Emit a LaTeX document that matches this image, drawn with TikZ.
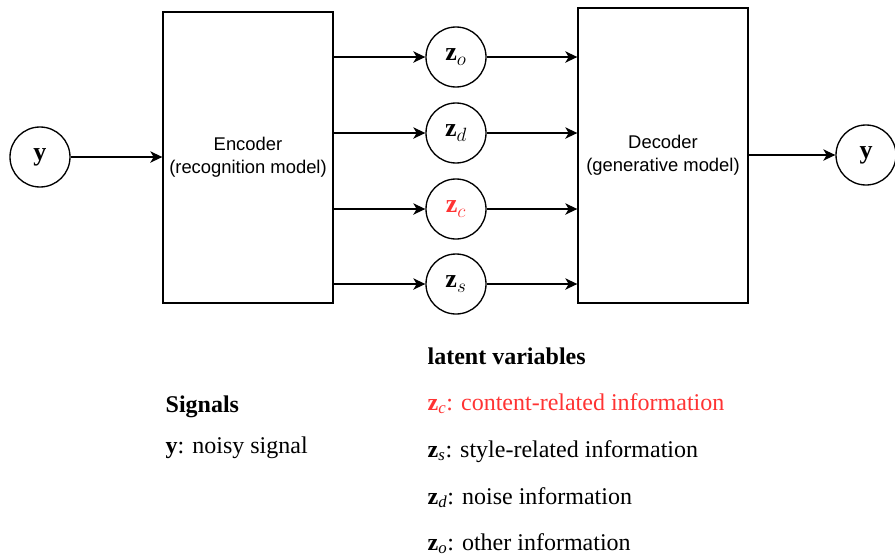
\documentclass[tikz,border=0pt]{standalone}
\usepackage{fontspec}
\setmainfont{Liberation Serif}
\newfontfamily\boxfont{Liberation Sans}
\usetikzlibrary{arrows.meta}
\definecolor{hot}{HTML}{FF3333}
\begin{document}
\begin{tikzpicture}[x=0.75pt,y=-0.75pt,
  every path/.style={line width=1pt},
  var/.style={draw,circle,minimum size=45pt,inner sep=0pt,font=\fontsize{19.5}{22}\selectfont},
  block/.style={draw,minimum width=127.5pt,inner sep=0pt,align=center,font=\boxfont\fontsize{13.8}{17}\selectfont},
  flow/.style={-{Stealth[length=9pt,width=8.5pt,inset=2.5pt]}},
  legend/.style={anchor=base west,inner sep=0pt,font=\fontsize{18}{21}\selectfont}]
\useasboundingbox (0,0) rectangle (895,554);

% encoder / decoder blocks
\node[block,minimum height=218.25pt] (enc) at (248,157.5) {Encoder\\(recognition model)};
\node[block,minimum height=221.25pt] (dec) at (663,155.5) {Decoder\\(generative model)};

% observed signal in and out
\node[var] (yin) at (40,157) {$\mathbf{y}$};
\node[var] (yout) at (866,155) {$\mathbf{y}$};

% latent variables
\node[var] (zo) at (456,57) {$\mathbf{z}_o$};
\node[var] (zd) at (456,133) {$\mathbf{z}_d$};
\node[var,text=hot] (zc) at (456,209) {$\mathbf{z}_c$};
\node[var] (zs) at (456,284) {$\mathbf{z}_s$};

% connectors
\draw[flow] (yin) -- (enc.west |- yin);
\draw[flow] (dec.east |- yout) -- (yout);
\foreach \z in {zo,zd,zc,zs}{
  \draw[flow] (enc.east |- \z.west) -- (\z);
  \draw[flow] (\z) -- (dec.west |- \z.east);
}

% legend
\node[legend] (sig) at (165,412) {\textbf{Signals}};
\node[legend] (sigy) at (165,453) {\textbf{y}: noisy signal};
\node[legend] (lat) at (427,364) {\textbf{latent variables}};
\node[legend,text=hot] (lc) at (427,410) {\textbf{z}\textsubscript{\textit{c}}: content-related information};
\node[legend] (ls) at (427,457) {\textbf{z}\textsubscript{\textit{s}}: style-related information};
\node[legend] (ld) at (427,504) {\textbf{z}\textsubscript{\textit{d}}: noise information};
\node[legend] (lo) at (427,550) {\textbf{z}\textsubscript{\textit{o}}: other information};
\end{tikzpicture}
\end{document}
